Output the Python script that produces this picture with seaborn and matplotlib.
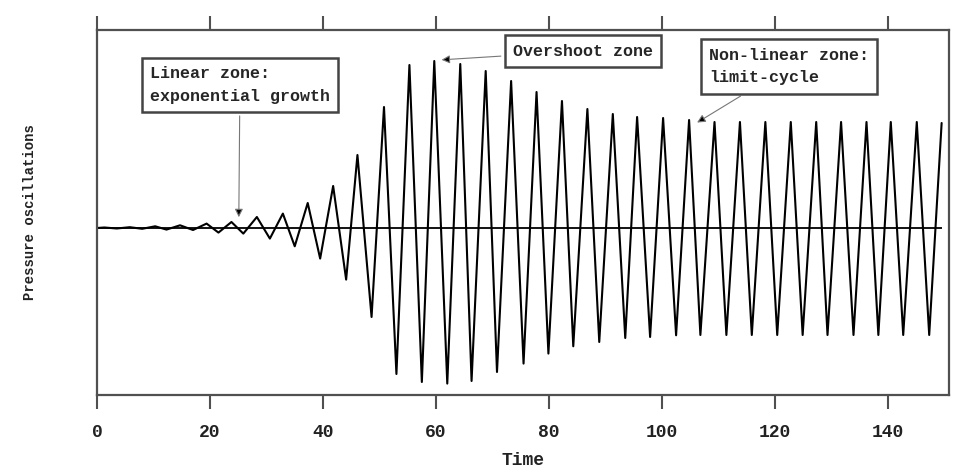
import matplotlib
matplotlib.use('Agg')
import matplotlib.pyplot as plt
import seaborn as sns
import pandas as pd

# extrema of the pressure trace (arbitrary units)
time = [0.0, 1.3, 3.5, 5.8, 8.0, 10.3, 12.3, 14.7, 17.0, 19.4, 21.5, 23.8,
        25.9, 28.3, 30.6, 32.9, 35.0, 37.3, 39.5, 41.8, 44.1, 46.1, 48.6,
        50.8, 53.0, 55.3, 57.5, 59.7, 62.0, 64.3, 66.3, 68.8, 70.8, 73.3,
        75.5, 77.8, 79.9, 82.3, 84.3, 86.8, 88.9, 91.3, 93.5, 95.6, 97.9,
        100.2, 102.5, 104.8, 106.8, 109.3, 111.4, 113.8, 115.9, 118.3, 120.4,
        122.8, 124.9, 127.3, 129.3, 131.7, 133.9, 136.2, 138.3, 140.5, 142.7,
        145.1, 147.3, 149.5]
pressure = [0.0, 0.005, -0.005, 0.008, -0.008, 0.017, -0.016, 0.027, -0.02,
            0.044, -0.046, 0.06, -0.056, 0.11, -0.106, 0.144, -0.183, 0.25,
            -0.306, 0.42, -0.516, 0.73, -0.89, 1.21, -1.46, 1.63, -1.54, 1.67,
            -1.556, 1.64, -1.53, 1.57, -1.44, 1.47, -1.356, 1.36, -1.256, 1.27,
            -1.183, 1.19, -1.14, 1.14, -1.10, 1.11, -1.09, 1.10, -1.073, 1.08,
            -1.07, 1.06, -1.07, 1.06, -1.07, 1.06, -1.07, 1.06, -1.07, 1.06,
            -1.07, 1.06, -1.07, 1.06, -1.07, 1.06, -1.07, 1.06, -1.07, 1.05]
xticks = [0, 20, 40, 60, 80, 100, 120, 140]

df = pd.DataFrame({'Time': time, 'p': pressure})

sns.set_theme(style='white')
plt.rcParams['font.family'] = ['Liberation Mono', 'DejaVu Sans Mono']
plt.rcParams['font.weight'] = 'bold'

fig = plt.figure(figsize=(9.65, 4.74), dpi=100)
ax = fig.add_axes([0.1005, 0.1667, 0.8829, 0.77])

sns.lineplot(data=df, x='Time', y='p', color='black', lw=1.5,
             estimator=None, sort=False, ax=ax)
ax.hlines(0, time[0], time[-1], color='black', lw=1.3)

ax.set_xlim(0, 150.8)
ax.set_ylim(-1.67, 1.98)
ax.set_xticks(xticks)
ax.set_yticks([])
ax.tick_params(axis='x', which='both', direction='out', top=True, bottom=True,
               labeltop=False, length=10, width=1.5, color='#505050',
               labelsize=13, pad=11, labelcolor='#222222')
for s in ax.spines.values():
    s.set_color('#505050')
    s.set_linewidth(1.6)

ax.set_xlabel('Time', fontsize=13, fontweight='bold', color='#222222', va='top')
ax.xaxis.set_label_coords(0.5, -0.155)
ax.set_ylabel('Pressure oscillations', fontsize=10, fontweight='bold', color='#222222')
ax.yaxis.set_label_coords(-0.07, 0.5)

box = dict(boxstyle='square,pad=0.5', fc='white', ec='#444444', lw=1.8)
arrow = dict(arrowstyle='-|>', fc='black', ec='#777777', lw=0.8, mutation_scale=12)

ax.annotate('Linear zone:\nexponential growth', xy=(25.1, 0.08), xytext=(25.3, 1.43),
            ha='center', va='center', multialignment='left', fontsize=12,
            fontweight='bold', linespacing=1.65, bbox=box, arrowprops=arrow)
ax.annotate('Overshoot zone', xy=(60.5, 1.68), xytext=(86.0, 1.77),
            ha='center', va='center', fontsize=12, fontweight='bold',
            bbox=box, arrowprops=arrow)
ax.annotate('Non-linear zone:\nlimit-cycle', xy=(105.8, 1.04), xytext=(122.5, 1.615),
            ha='center', va='center', multialignment='left', fontsize=12,
            fontweight='bold', linespacing=1.65, bbox=box, arrowprops=arrow)

fig.savefig('out.png', dpi=100)
